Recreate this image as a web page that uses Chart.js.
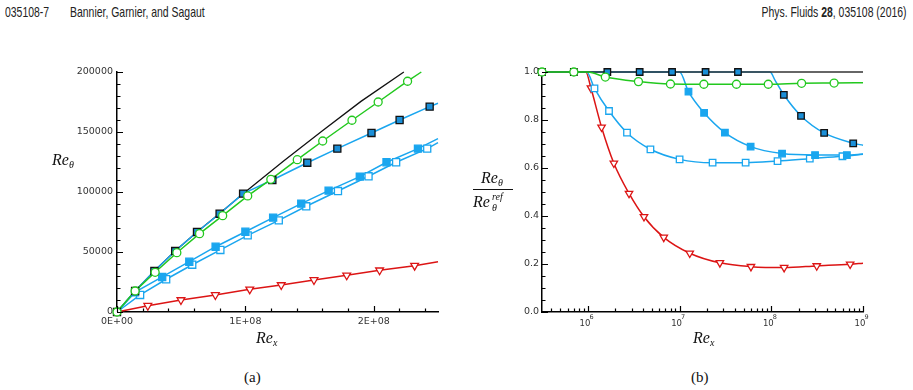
<!DOCTYPE html>
<html>
<head>
<meta charset="utf-8">
<script src="https://cdn.jsdelivr.net/npm/chart.js@4.4.1/dist/chart.umd.min.js"></script>
<style>
    body { margin: 0; background: #fff; }
    #page { position: relative; width: 913px; height: 390px; overflow: hidden; background: #fff; }
    .hdr { position: absolute; top: 4px; font-family: "Liberation Sans", Arial, sans-serif; font-size: 14.5px; color: #222; white-space: nowrap; transform: scaleX(0.72); }
    .box { position: absolute; }
    .math { position: absolute; font-family: "Liberation Serif", "DejaVu Serif", serif; font-style: italic; font-size: 16px; color: #111; white-space: nowrap; }
    .math sub { font-size: 10px; vertical-align: -3px; }
    .cap { position: absolute; font-family: "Liberation Serif", serif; font-size: 15px; color: #111; }
</style>
</head>
<body>
<div id="page">
    <div class="hdr" style="left:5px; transform-origin:left top;">035108-7</div>
    <div class="hdr" style="left:70px; transform-origin:left top;">Bannier, Garnier, and Sagaut</div>
    <div class="hdr" style="right:6px; transform-origin:right top;">Phys. Fluids <b>28</b>, 035108 (2016)</div>

    <div class="box" style="left:0; top:40px; width:460px; height:300px;"><canvas id="chartA"></canvas></div>
    <div class="box" style="left:460px; top:40px; width:453px; height:300px;"><canvas id="chartB"></canvas></div>

    <div class="math" style="left:52px; top:151px;">Re<sub>θ</sub></div>
    <div class="math" style="left:256px; top:329px;">Re<sub>x</sub></div>
    <div class="math" style="left:693px; top:329px;">Re<sub>x</sub></div>

    <div class="math" style="left:481px; top:169px;">Re<sub>θ</sub></div>
    <div style="position:absolute; left:473px; top:189px; width:40px; border-top:1px solid #111;"></div>
    <div class="math" style="left:473px; top:193px;">Re</div>
    <div class="math" style="left:492px; top:191px; font-size:10px;">ref</div>
    <div class="math" style="left:492px; top:202px; font-size:10px;">θ</div>

    <div class="cap" style="left:244px; top:369px;">(a)</div>
    <div class="cap" style="left:691px; top:369px;">(b)</div>
</div>

<script>
// ---------- (a) Re_theta against Re_x ----------
const aRefX = [0, 1.41e7, 2.91e7, 4.53e7, 6.23e7, 7.99e7, 9.82e7, 1.3e8, 1.6e8, 1.9e8, 2.234e8];
const aRefY = [0, 17500, 34200, 50800, 66700, 82000, 98600, 126000, 151000, 175500, 200000];

const aDarkX = [0, 1.41e7, 2.91e7, 4.53e7, 6.23e7, 7.99e7, 9.82e7, 1.21e8, 1.482e8, 1.716e8, 1.982e8, 2.201e8, 2.435e8];
const aDarkY = [0, 17500, 34200, 50800, 66700, 81900, 98600, 110000, 124400, 136100, 149200, 160000, 171100];
const aDarkTail = [2.5e8, 174000];

const aGreenX = [0, 1.41e7, 2.97e7, 4.66e7, 6.43e7, 8.23e7, 1.018e8, 1.198e8, 1.404e8, 1.602e8, 1.83e8, 2.034e8, 2.263e8];
const aGreenY = [0, 17500, 33100, 49400, 65300, 80300, 96700, 110600, 126900, 142500, 159800, 175000, 192300];
const aGreenTail = [2.37e8, 200000];

const aFilledX = [1.41e7, 3.52e7, 5.63e7, 7.68e7, 1.0e8, 1.216e8, 1.435e8, 1.648e8, 1.891e8, 2.099e8, 2.344e8];
const aFilledY = [16500, 29200, 41900, 54400, 66900, 78600, 90300, 101100, 112800, 124800, 136100];
const aFilledTail = [2.5e8, 144500];

const aOpenX = [1.8e7, 3.83e7, 5.86e7, 8.05e7, 1.018e8, 1.26e8, 1.474e8, 1.721e8, 1.959e8, 2.174e8, 2.416e8];
const aOpenY = [14200, 27300, 39400, 51700, 63900, 76400, 88100, 100800, 113100, 124800, 136100];
const aOpenTail = [2.5e8, 141100];

const aRedX = [2.4e7, 4.98e7, 7.66e7, 1.034e8, 1.279e8, 1.534e8, 1.789e8, 2.045e8, 2.318e8];
const aRedY = [5250, 10000, 14200, 18900, 22500, 26700, 30600, 34800, 38600];
const aRedTail = [2.5e8, 41800];

const aXTickVals = [0, 1e8, 2e8];
const aXTickLabels = ['0E+00', '1E+08', '2E+08'];
const aYTickVals = [0, 50000, 100000, 150000, 200000];
const aYTickLabels = ['0', '50000', '100000', '150000', '200000'];

// ---------- (b) Re_theta / Re_theta_ref against Re_x ----------
const bRefX = [3.16e5, 1e9];
const bRefY = [1, 1];

const bDarkX = [3.16e5, 7.03e5, 1.63e6, 3.67e6, 8.28e6, 1.92e7, 4.33e7, 1.37e8, 2.11e8, 3.77e8, 7.82e8];
const bDarkY = [1, 1, 1, 1, 1, 1, 1, 0.905, 0.817, 0.746, 0.703];
const bDarkKnee = [[9.7e7, 1], [1.1e8, 0.965]];
const bDarkTail = [1e9, 0.695];

const bFilledX = [1.25e7, 1.85e7, 3.12e7, 5.95e7, 1.31e8, 3.0e8, 6.67e8];
const bFilledY = [0.918, 0.830, 0.747, 0.689, 0.660, 0.654, 0.654];
const bFilledKnee = [[3.16e5, 1], [1.0e7, 1]];
const bFilledTail = [1e9, 0.658];

const bOpenX = [1.18e6, 1.70e6, 2.67e6, 4.81e6, 1.0e7, 2.29e7, 5.25e7, 1.17e8, 2.63e8, 5.97e8];
const bOpenY = [0.932, 0.8375, 0.747, 0.678, 0.636, 0.622, 0.622, 0.629, 0.639, 0.649];
const bOpenKnee = [[3.16e5, 1], [9.7e5, 1]];
const bOpenTail = [1e9, 0.657];

const bRedX = [1.08e6, 1.41e6, 1.92e6, 2.81e6, 4.09e6, 6.72e6, 1.29e7, 2.75e7, 6.0e7, 1.38e8, 3.13e8, 7.24e8];
const bRedY = [0.933, 0.770, 0.620, 0.494, 0.397, 0.311, 0.245, 0.205, 0.189, 0.185, 0.192, 0.199];
const bRedKnee = [[3.16e5, 1], [9.5e5, 1]];
const bRedTail = [1e9, 0.203];

const bGreenX = [3.16e5, 7.03e5, 1.55e6, 3.56e6, 7.95e6, 1.84e7, 4.17e7, 9.27e7, 2.14e8, 4.84e8];
const bGreenY = [1, 1, 0.979, 0.960, 0.950, 0.949, 0.949, 0.949, 0.953, 0.954];
const bGreenKnee = [[1.0e6, 1]];
const bGreenTail = [1e9, 0.955];

const bXTickVals = [1e6, 1e7, 1e8, 1e9];
const bXTickExp = ['6', '7', '8', '9'];
const bYTickVals = [0, 0.2, 0.4, 0.6, 0.8, 1.0];
const bYTickLabels = ['0.0', '0.2', '0.4', '0.6', '0.8', '1.0'];

const GREEN = '#22c81e';
const BLUE = '#1aa6ef';
const DARKFILL = '#1a8fd8';
const RED = '#dc1414';
const TICKFONT = { family: 'DejaVu Sans', size: 9.5 };

function pts(xs, ys) {
    return xs.map((x, i) => ({ x: x, y: ys[i] }));
}

function curve(head, xs, ys, tail) {
    const p = head.map(h => ({ x: h[0], y: h[1] })).concat(pts(xs, ys));
    if (tail) p.push({ x: tail[0], y: tail[1] });
    return p.sort((a, b) => a.x - b.x);
}

function lineSet(data, color, width, order, smooth) {
    return {
        data: data, showLine: true, borderColor: color, borderWidth: width,
        pointRadius: 0, fill: false, order: order, clip: false,
        cubicInterpolationMode: smooth ? 'monotone' : 'default', tension: 0
    };
}

function markSet(data, style, fill, edge, radius, order, rotation) {
    return {
        data: data, showLine: false, pointStyle: style, pointRadius: radius,
        pointBackgroundColor: fill, pointBorderColor: edge, pointBorderWidth: 1.3,
        pointRotation: rotation || 0, order: order, clip: false
    };
}

// inward tick marks, major and minor, placed with the chart's own scales
function tickMarks(id, xMinor, xMajor, yMinor, yMajor) {
    return {
        id: id,
        afterDraw(chart) {
            const ctx = chart.ctx, xs = chart.scales.x, ys = chart.scales.y;
            const area = chart.chartArea;
            ctx.save();
            ctx.strokeStyle = '#000';
            ctx.lineWidth = 1.2;
            ctx.beginPath();
            xMinor.forEach(v => { const p = Math.round(xs.getPixelForValue(v)) + 0.5; ctx.moveTo(p, area.bottom); ctx.lineTo(p, area.bottom - 3.5); });
            xMajor.forEach(v => { const p = Math.round(xs.getPixelForValue(v)) + 0.5; ctx.moveTo(p, area.bottom); ctx.lineTo(p, area.bottom - 6); });
            yMinor.forEach(v => { const p = Math.round(ys.getPixelForValue(v)) + 0.5; ctx.moveTo(area.left, p); ctx.lineTo(area.left + 3.5, p); });
            yMajor.forEach(v => { const p = Math.round(ys.getPixelForValue(v)) + 0.5; ctx.moveTo(area.left, p); ctx.lineTo(area.left + 6, p); });
            ctx.stroke();
            ctx.restore();
        }
    };
}

function axisBase() {
    return {
        grid: { display: false, drawTicks: false },
        border: { display: true, color: '#000', width: 1.5 }
    };
}

// ----- chart (a) -----
const aXMinor = [], aYMinor = [];
for (let v = 0; v <= 2.5e8; v += 2e7) aXMinor.push(v);
for (let v = 0; v <= 2e5; v += 1e4) aYMinor.push(v);

new Chart(document.getElementById('chartA'), {
    type: 'scatter',
    data: {
        datasets: [
            markSet(pts(aGreenX, aGreenY), 'circle', '#fff', GREEN, 4, 0),
            markSet(pts(aDarkX, aDarkY), 'rect', DARKFILL, '#111', 5, 1),
            markSet(pts(aFilledX, aFilledY), 'rect', BLUE, BLUE, 5, 2),
            markSet(pts(aOpenX, aOpenY), 'rect', '#fff', BLUE, 5, 3),
            markSet(pts(aRedX, aRedY), 'triangle', '#fff', RED, 4.5, 4, 180),
            lineSet(curve([], aGreenX, aGreenY, aGreenTail), GREEN, 1.5, 5),
            lineSet(curve([], aDarkX, aDarkY, aDarkTail), BLUE, 1.5, 6),
            lineSet(curve([[0, 0]], aFilledX, aFilledY, aFilledTail), BLUE, 1.5, 7),
            lineSet(curve([[0, 0]], aOpenX, aOpenY, aOpenTail), BLUE, 1.5, 8),
            lineSet(curve([[0, 0]], aRedX, aRedY, aRedTail), RED, 1.5, 9),
            lineSet(pts(aRefX, aRefY), '#111', 1.3, 10)
        ]
    },
    options: {
        responsive: true,
        maintainAspectRatio: false,
        animation: false,
        layout: { padding: { left: 57, right: 22, top: 32, bottom: 8 } },
        plugins: { legend: { display: false }, tooltip: { enabled: false } },
        scales: {
            x: Object.assign(axisBase(), {
                type: 'linear', min: 0, max: 2.5e8,
                afterBuildTicks: s => { s.ticks = aXTickVals.map(v => ({ value: v })); },
                afterFit: s => { s.height = 20; },
                ticks: { font: TICKFONT, color: '#333', padding: 4, maxRotation: 0, autoSkip: false,
                         callback: (v, i) => aXTickLabels[i] }
            }),
            y: Object.assign(axisBase(), {
                type: 'linear', min: 0, max: 200000,
                afterBuildTicks: s => { s.ticks = aYTickVals.map(v => ({ value: v })); },
                afterFit: s => { s.width = 60; },
                ticks: { font: TICKFONT, color: '#333', padding: 4, autoSkip: false,
                         callback: (v, i) => aYTickLabels[i] }
            })
        }
    },
    plugins: [tickMarks('ticksA', aXMinor, aXTickVals, aYMinor, aYTickVals)]
});

// ----- chart (b) -----
const bXMinor = [], bYMinor = [];
for (let d = 5; d <= 8; d++) {
    for (let k = 2; k <= 9; k++) {
        const v = k * Math.pow(10, d);
        if (v >= 3.16e5 && v <= 1e9) bXMinor.push(v);
    }
}
for (let i = 0; i <= 20; i++) bYMinor.push(i * 0.05);

const logLabels = {
    id: 'logLabels',
    afterDraw(chart) {
        const ctx = chart.ctx, xs = chart.scales.x, bottom = chart.chartArea.bottom;
        ctx.save();
        ctx.fillStyle = '#333';
        bXTickVals.forEach((v, i) => {
            const p = xs.getPixelForValue(v);
            ctx.font = '8.5px "DejaVu Sans"';
            ctx.textAlign = 'center';
            ctx.textBaseline = 'alphabetic';
            ctx.fillText('10', p - 3, bottom + 13.5);
            ctx.font = '6.5px "DejaVu Sans"';
            ctx.textAlign = 'left';
            ctx.fillText(bXTickExp[i], p + 1.5, bottom + 7);
        });
        ctx.restore();
    }
};

new Chart(document.getElementById('chartB'), {
    type: 'scatter',
    data: {
        datasets: [
            markSet(pts(bGreenX, bGreenY), 'circle', '#fff', GREEN, 4, 0),
            markSet(pts(bDarkX, bDarkY), 'rect', DARKFILL, '#111', 4.6, 1),
            markSet(pts(bFilledX, bFilledY), 'rect', BLUE, BLUE, 4.6, 2),
            markSet(pts(bOpenX, bOpenY), 'rect', '#fff', BLUE, 4.6, 3),
            markSet(pts(bRedX, bRedY), 'triangle', '#fff', RED, 4.3, 4, 180),
            lineSet(curve(bGreenKnee, bGreenX, bGreenY, bGreenTail), GREEN, 1.5, 5, true),
            lineSet(pts(bRefX, bRefY), '#333', 1.5, 6),
            lineSet(curve(bDarkKnee, bDarkX, bDarkY, bDarkTail), BLUE, 1.5, 7, true),
            lineSet(curve(bFilledKnee, bFilledX, bFilledY, bFilledTail), BLUE, 1.5, 8, true),
            lineSet(curve(bOpenKnee, bOpenX, bOpenY, bOpenTail), BLUE, 1.5, 9, true),
            lineSet(curve(bRedKnee, bRedX, bRedY, bRedTail), RED, 1.5, 10, true)
        ]
    },
    options: {
        responsive: true,
        maintainAspectRatio: false,
        animation: false,
        layout: { padding: { left: 42, right: 50, top: 32, bottom: 8 } },
        plugins: { legend: { display: false }, tooltip: { enabled: false } },
        scales: {
            x: Object.assign(axisBase(), {
                type: 'logarithmic', min: 3.16e5, max: 1e9,
                afterBuildTicks: s => { s.ticks = bXTickVals.map(v => ({ value: v })); },
                afterFit: s => { s.height = 20; },
                ticks: { display: false }
            }),
            y: Object.assign(axisBase(), {
                type: 'linear', min: 0, max: 1,
                afterBuildTicks: s => { s.ticks = bYTickVals.map(v => ({ value: v })); },
                afterFit: s => { s.width = 40; },
                ticks: { font: TICKFONT, color: '#333', padding: 3, autoSkip: false,
                         callback: (v, i) => bYTickLabels[i] }
            })
        }
    },
    plugins: [tickMarks('ticksB', bXMinor, bXTickVals, bYMinor, bYTickVals), logLabels]
});
</script>
</body>
</html>
